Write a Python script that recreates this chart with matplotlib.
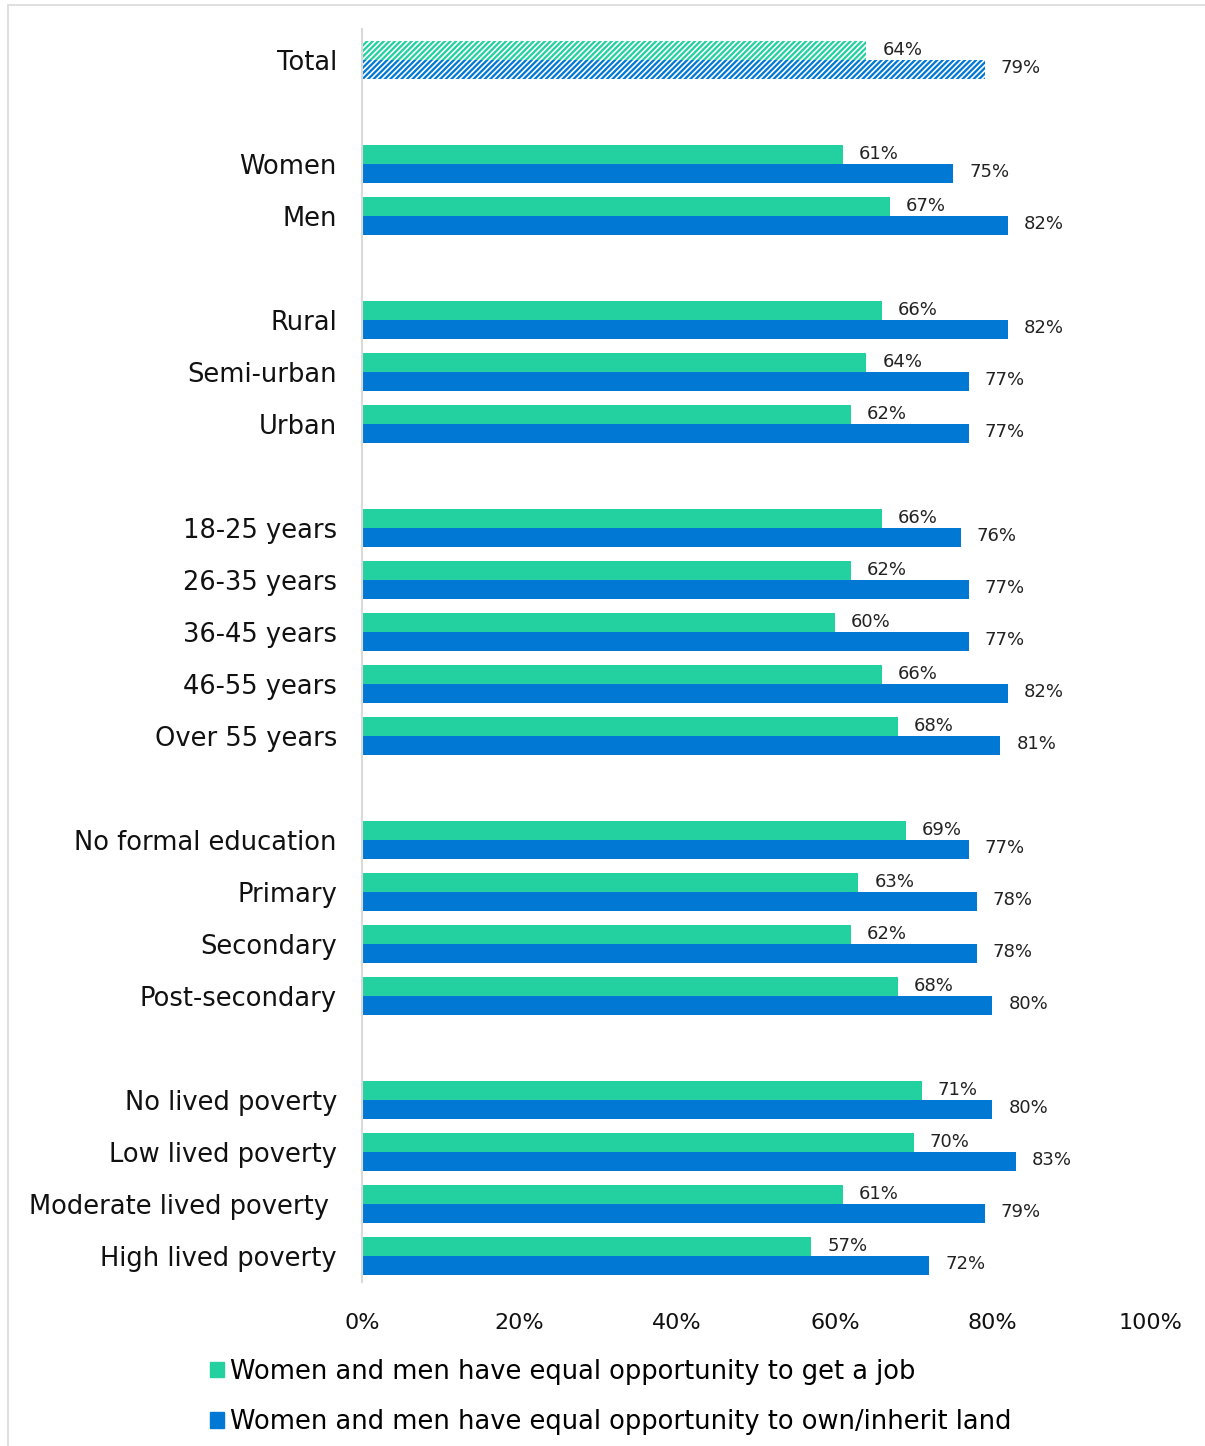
import matplotlib
matplotlib.use("Agg")
import matplotlib.pyplot as plt
from matplotlib.patches import Patch, Rectangle

# categories, with None marking the blank rows between groups
categories = ["Total", None,
              "Women", "Men", None,
              "Rural", "Semi-urban", "Urban", None,
              "18-25 years", "26-35 years", "36-45 years", "46-55 years", "Over 55 years", None,
              "No formal education", "Primary", "Secondary", "Post-secondary", None,
              "No lived poverty", "Low lived poverty", "Moderate lived poverty ", "High lived poverty"]
job = [64, None, 61, 67, None, 66, 64, 62, None, 66, 62, 60, 66, 68, None,
       69, 63, 62, 68, None, 71, 70, 61, 57]
land = [79, None, 75, 82, None, 82, 77, 77, None, 76, 77, 77, 82, 81, None,
        77, 78, 78, 80, None, 80, 83, 79, 72]
series_names = ["Women and men have equal opportunity to get a job",
                "Women and men have equal opportunity to own/inherit land"]
xticks = [0, 20, 40, 60, 80, 100]

GREEN = "#23D1A0"
BLUE = "#0078D4"
plt.rcParams["hatch.linewidth"] = 1.2

fig = plt.figure(figsize=(12.05, 14.46), dpi=100)
ax = fig.add_axes([0.3004, 0.1134, 0.9544 - 0.3004, 0.980 - 0.1134])

h = 0.36
for i, (cat, j, l) in enumerate(zip(categories, job, land)):
    if cat is None:
        continue
    hatch = "//////" if cat == "Total" else None
    for val, col, off in [(j, GREEN, -h / 2), (l, BLUE, h / 2)]:
        if hatch:
            ax.barh(i + off, val, height=h, color=col, edgecolor="white",
                    hatch=hatch, linewidth=0)
        else:
            ax.barh(i + off, val, height=h, color=col, linewidth=0)
        ax.annotate(f"{val}%", (val, i + off), xytext=(16, 1),
                    textcoords="offset pixels",
                    va="center", ha="left", fontsize=13, color="#222222")

ax.set_yticks([i for i, c in enumerate(categories) if c is not None])
ax.set_yticklabels([c for c in categories if c is not None], fontsize=18.5, color="#111111")
ax.set_xticks(xticks)
ax.set_xticklabels([f"{t}%" for t in xticks], fontsize=16, color="#111111")
ax.set_xlim(0, 100)
ax.set_ylim(23.5, -0.6)
ax.tick_params(axis="both", length=0)
ax.tick_params(axis="y", pad=18)
ax.tick_params(axis="x", pad=22)
for s in ["top", "right", "bottom"]:
    ax.spines[s].set_visible(False)
ax.spines["left"].set_color("#D9D9D9")
ax.spines["left"].set_linewidth(1.5)

# outer frame (partly cut off in the original)
fig.patches.append(Rectangle((8 / 1205, -0.1), 1.2, 1.1 - 5 / 1446,
                             transform=fig.transFigure, fill=False,
                             edgecolor="#D9D9D9", linewidth=1.2))

handles = [Patch(color=GREEN), Patch(color=BLUE)]
fig.legend(handles, series_names, loc="center left", bbox_to_anchor=(0.155, 0.034),
           frameon=False, fontsize=18.5, handlelength=0.55, handleheight=0.55,
           handletextpad=0.25, labelspacing=0.95)

fig.savefig("out.png", dpi=100)
